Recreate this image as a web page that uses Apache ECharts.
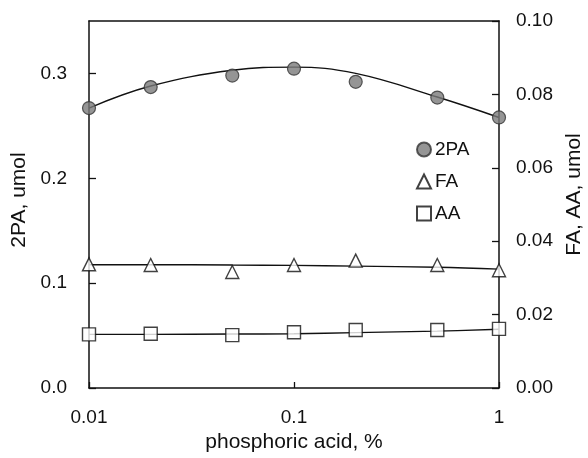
<!DOCTYPE html>
<html>
<head>
<meta charset="utf-8">
<script src="https://cdn.jsdelivr.net/npm/echarts@6/dist/echarts.min.js"></script>
<style>html,body{margin:0;padding:0;background:#fff}#c{width:588px;height:458px}</style>
</head>
<body>
<div id="c"></div>
<script>
const xValues = [0.01, 0.02, 0.05, 0.1, 0.2, 0.5, 1];
const pa2 = [0.267, 0.287, 0.298, 0.3045, 0.292, 0.277, 0.258];
const fa = [0.0337, 0.0335, 0.0316, 0.0335, 0.0347, 0.0335, 0.0321];
const aa = [0.0146, 0.0148, 0.0144, 0.0152, 0.0158, 0.0158, 0.0161];
const pa2Fit = [0.267, 0.288, 0.303, 0.306, 0.300, 0.2775, 0.258];
const faFit = [0.0336, 0.0336, 0.0335, 0.0334, 0.0332, 0.0329, 0.0324];
const aaFit = [0.0146, 0.0146, 0.0147, 0.0148, 0.0151, 0.0155, 0.0160];
const xTicks = ['0.01', '0.1', '1'];

const pairs = (xs, ys) => xs.map((x, i) => [x, ys[i]]);
const FONT = 'Liberation Sans';
const txt = {color: '#111', fontFamily: FONT, fontSize: 19};
const nameTxt = {color: '#111', fontFamily: FONT, fontSize: 21};

const chart = echarts.init(document.getElementById('c'), null, {renderer: 'canvas'});
chart.setOption({
  animation: false,
  backgroundColor: '#fff',
  grid: {left: 89, right: 89, top: 21, bottom: 70, show: false, containLabel: false, outerBoundsMode: 'none'},
  legend: {
    orient: 'vertical', left: 411, top: 135, itemWidth: 14, itemHeight: 14, itemGap: 13,
    textStyle: Object.assign({padding: [0, 0, 0, -1]}, txt), data: ['2PA', 'FA', 'AA']
  },
  xAxis: [{
    type: 'log', logBase: 10, min: 0.01, max: 1,
    name: 'phosphoric acid, %', nameLocation: 'middle', nameGap: 43, nameTextStyle: nameTxt,
    axisLine: {lineStyle: {color: '#111', width: 1.5}},
    axisTick: {inside: true, length: 6, lineStyle: {color: '#111', width: 1.3}},
    minorTick: {show: false}, splitLine: {show: false},
    axisLabel: Object.assign({margin: 20, formatter: v => { const s = xTicks.find(t => Math.abs(parseFloat(t) - v) < 1e-9); return s || ''; }}, txt)
  }, {
    type: 'log', logBase: 10, min: 0.01, max: 1, position: 'top',
    axisLine: {show: true, onZero: false, lineStyle: {color: '#111', width: 1.5}},
    axisTick: {show: false}, axisLabel: {show: false}, splitLine: {show: false}
  }],
  yAxis: [{
    type: 'value', min: 0, max: 0.35, interval: 0.1, position: 'left',
    name: '2PA, umol', nameLocation: 'middle', nameGap: 56, nameRotate: 90,
    nameTextStyle: Object.assign({padding: [0, 0, 0, 9]}, nameTxt),
    axisLine: {show: true, onZero: false, lineStyle: {color: '#111', width: 1.5}},
    axisTick: {show: true, inside: true, length: 7, lineStyle: {color: '#111', width: 1.3}},
    splitLine: {show: false},
    axisLabel: Object.assign({margin: 22, showMaxLabel: false, formatter: v => v.toFixed(1)}, txt)
  }, {
    type: 'value', min: 0, max: 0.1, interval: 0.02, position: 'right',
    name: 'FA, AA, umol', nameLocation: 'middle', nameGap: 65, nameRotate: 90,
    nameTextStyle: Object.assign({padding: [0, 0, 0, 20]}, nameTxt),
    axisLine: {show: true, onZero: false, lineStyle: {color: '#111', width: 1.5}},
    axisTick: {show: true, inside: true, length: 7, lineStyle: {color: '#111', width: 1.3}},
    splitLine: {show: false},
    axisLabel: Object.assign({margin: 17, formatter: v => v.toFixed(2)}, txt)
  }],
  series: [
    {type: 'line', data: pairs(xValues, pa2Fit), yAxisIndex: 0, smooth: 0.4, symbol: 'none',
     lineStyle: {color: '#111', width: 1.4}, silent: true, z: 2},
    {type: 'line', data: pairs(xValues, faFit), yAxisIndex: 1, smooth: 0.4, symbol: 'none',
     lineStyle: {color: '#111', width: 1.4}, silent: true, z: 2},
    {type: 'line', data: pairs(xValues, aaFit), yAxisIndex: 1, smooth: 0.4, symbol: 'none',
     lineStyle: {color: '#111', width: 1.4}, silent: true, z: 2},
    {name: '2PA', type: 'scatter', data: pairs(xValues, pa2), yAxisIndex: 0, symbol: 'circle', symbolSize: 13,
     itemStyle: {color: '#7a7a7a', borderColor: '#333', borderWidth: 1.2}, z: 5},
    {name: 'FA', type: 'scatter', data: pairs(xValues, fa), yAxisIndex: 1, symbol: 'triangle', symbolSize: 13,
     itemStyle: {color: '#fff', borderColor: '#111', borderWidth: 1.4}, z: 5},
    {name: 'AA', type: 'scatter', data: pairs(xValues, aa), yAxisIndex: 1, symbol: 'rect', symbolSize: 13,
     itemStyle: {color: '#fff', borderColor: '#111', borderWidth: 1.4}, z: 5}
  ]
});
</script>
</body>
</html>
